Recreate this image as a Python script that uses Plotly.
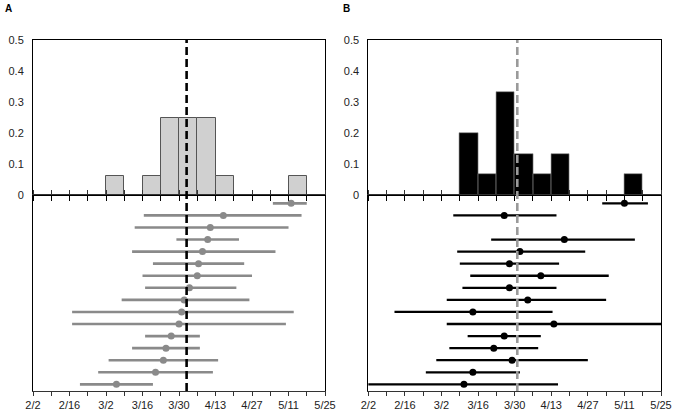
import plotly.graph_objects as go

# ---------------- data ----------------
# Panel A histogram (weekly bins, start date of bin -> proportion)
a_bin_start = ["2023-03-02", "2023-03-16", "2023-03-23", "2023-03-30", "2023-04-06", "2023-04-13", "2023-05-11"]
a_bin_value = [0.0625, 0.0625, 0.25, 0.25, 0.25, 0.0625, 0.0625]

# Panel B histogram
b_bin_start = ["2023-03-09", "2023-03-16", "2023-03-23", "2023-03-30", "2023-04-06", "2023-04-13", "2023-05-11"]
b_bin_value = [0.2, 0.0667, 0.3333, 0.1333, 0.0667, 0.1333, 0.0667]

# Panel A intervals (row 1 = top)
a_rows = list(range(1, 17))
a_lo = ["2023-05-05", "2023-03-16 12:00", "2023-03-13", "2023-03-29", "2023-03-12", "2023-03-20",
        "2023-03-16", "2023-03-17", "2023-03-08", "2023-02-17", "2023-02-17", "2023-03-17",
        "2023-03-12", "2023-03-03", "2023-02-27", "2023-02-20"]
a_hi = ["2023-05-18", "2023-05-16", "2023-05-11", "2023-04-22", "2023-05-06", "2023-04-24",
        "2023-04-27", "2023-04-21", "2023-04-26", "2023-05-13", "2023-05-10", "2023-04-07",
        "2023-04-07", "2023-04-14", "2023-04-12", "2023-03-20"]
a_mid = ["2023-05-12", "2023-04-16", "2023-04-11", "2023-04-10", "2023-04-08", "2023-04-06 12:00",
         "2023-04-06", "2023-04-03", "2023-04-01", "2023-03-31", "2023-03-30", "2023-03-27",
         "2023-03-25", "2023-03-24", "2023-03-21", "2023-03-06"]
a_mean = "2023-04-01 22:00"

# Panel B intervals (row 3 is empty)
b_rows = [1, 2, 4, 5, 6, 7, 8, 9, 10, 11, 12, 13, 14, 15, 16]
b_lo = ["2023-05-02 12:00", "2023-03-06 12:00", "2023-03-21", "2023-03-08", "2023-03-09", "2023-03-13",
        "2023-03-10", "2023-03-04", "2023-02-12", "2023-03-04", "2023-03-12", "2023-03-05",
        "2023-02-28", "2023-02-24", "2023-01-28"]
b_hi = ["2023-05-20", "2023-04-15", "2023-05-15", "2023-04-26", "2023-04-16", "2023-05-05",
        "2023-04-15", "2023-05-04", "2023-04-13 12:00", "2023-06-05", "2023-04-09", "2023-04-08",
        "2023-04-27", "2023-04-01", "2023-04-15 14:00"]
b_mid = ["2023-05-11", "2023-03-26", "2023-04-18", "2023-04-01", "2023-03-28", "2023-04-09",
         "2023-03-28", "2023-04-04", "2023-03-14", "2023-04-14", "2023-03-26", "2023-03-22",
         "2023-03-29", "2023-03-14", "2023-03-10 14:00"]
b_mean = "2023-03-31"

x_range = ["2023-02-02", "2023-05-25 00:00:01"]
y_ticks = [0, 0.1, 0.2, 0.3, 0.4, 0.5]

DAY = 86400000
FONT = "Liberation Sans, Arial, sans-serif"

# ---------------- figure ----------------
fig = go.Figure()


def segments(lo, hi, rows):
    xs, ys = [], []
    for l, h, r in zip(lo, hi, rows):
        xs += [l, h, None]
        ys += [r, r, None]
    return xs, ys


# Histograms
fig.add_trace(go.Bar(x=a_bin_start, y=a_bin_value, width=[7 * DAY] * len(a_bin_start), offset=0,
                     marker=dict(color="#d0d0d0", line=dict(color="#555555", width=1)),
                     xaxis="x", yaxis="y", showlegend=False))
fig.add_trace(go.Bar(x=b_bin_start, y=b_bin_value, width=[7 * DAY] * len(b_bin_start), offset=0,
                     marker=dict(color="#000000", line=dict(color="#888888", width=0.6)),
                     xaxis="x3", yaxis="y3", showlegend=False))

# Intervals A
xs, ys = segments(a_lo, a_hi, a_rows)
fig.add_trace(go.Scatter(x=xs, y=ys, mode="lines", line=dict(color="#8a8a8a", width=2.6),
                         xaxis="x2", yaxis="y2", showlegend=False, connectgaps=False))
fig.add_trace(go.Scatter(x=a_mid, y=a_rows, mode="markers", marker=dict(color="#8a8a8a", size=7),
                         xaxis="x2", yaxis="y2", showlegend=False, cliponaxis=False))

# Intervals B
xs, ys = segments(b_lo, b_hi, b_rows)
fig.add_trace(go.Scatter(x=xs, y=ys, mode="lines", line=dict(color="#000000", width=2.3),
                         xaxis="x4", yaxis="y4", showlegend=False, connectgaps=False))
fig.add_trace(go.Scatter(x=b_mid, y=b_rows, mode="markers", marker=dict(color="#000000", size=7),
                         xaxis="x4", yaxis="y4", showlegend=False, cliponaxis=False))

# Mean lines spanning both panels
fig.add_shape(type="line", xref="x", yref="paper", x0=a_mean, x1=a_mean, y0=0, y1=1,
              line=dict(color="#000000", width=2.6, dash="8px,4px"), layer="above")
fig.add_shape(type="line", xref="x3", yref="paper", x0=b_mean, x1=b_mean, y0=0, y1=1,
              line=dict(color="#9a9a9a", width=2.6, dash="8px,4px"), layer="above")

top_dom = [0.5584, 1.0]
bot_dom = [0.0, 0.5584]
a_dom = [0.0, 0.465]
b_dom = [0.534, 1.0]

tickfont = dict(family=FONT, size=11, color="#222222")


def top_x(dom, anchor):
    return dict(domain=dom, anchor=anchor, type="date", range=x_range, showticklabels=False,
                tick0="2023-02-02", dtick=7 * DAY, ticks="outside", ticklen=5, tickcolor="#000",
                showline=True, linecolor="#000", linewidth=1, mirror=True, showgrid=False,
                zeroline=False, automargin=False)


def bot_x(dom, anchor, match):
    return dict(domain=dom, anchor=anchor, type="date", range=x_range, matches=match,
                tick0="2023-02-02", dtick=14 * DAY, tickformat="%-m/%-d", ticks="outside",
                ticklen=4, tickcolor="#333", tickfont=tickfont, ticklabeloverflow="allow",
                minor=dict(tick0="2023-02-02", dtick=7 * DAY, ticks="outside", ticklen=4,
                           tickcolor="#333", showgrid=False),
                showline=True, linecolor="#333", linewidth=1, mirror="ticks",
                showgrid=False, zeroline=False, automargin=False)


def top_y(anchor):
    return dict(domain=top_dom, anchor=anchor, range=[0, 0.5], tickvals=y_ticks, ticks="",
                tickfont=tickfont, ticklabelstandoff=6, showline=True, linecolor="#000",
                linewidth=1, mirror=True, showgrid=False, zeroline=False, automargin=False,
                ticklabeloverflow="allow")


def bot_y(anchor):
    return dict(domain=bot_dom, anchor=anchor, range=[16.55, 0.31], showticklabels=False,
                ticks="", showline=True, linecolor="#000", linewidth=1, mirror=True,
                showgrid=False, zeroline=False, automargin=False)


ML, MR, MT, MB = 33, 14, 40, 22
W, H = 675, 413
pw = W - ML - MR
ph = H - MT - MB


def px_to_paper(x, y):
    return (x - ML) / pw, 1 + (MT - y) / ph


ax, ay = px_to_paper(8, 8.5)
bx, by = px_to_paper(346.5, 8.5)

fig.update_layout(
    width=W, height=H,
    margin=dict(l=ML, r=MR, t=MT, b=MB, autoexpand=False),
    paper_bgcolor="white", plot_bgcolor="white",
    font=dict(family=FONT, size=11, color="#222"),
    bargap=0,
    xaxis=top_x(a_dom, "y"), yaxis=top_y("x"),
    xaxis2=bot_x(a_dom, "y2", "x"), yaxis2=bot_y("x2"),
    xaxis3=top_x(b_dom, "y3"), yaxis3=top_y("x3"),
    xaxis4=bot_x(b_dom, "y4", "x3"), yaxis4=bot_y("x4"),
    annotations=[
        dict(text="<b>A</b>", x=ax, y=ay, xref="paper", yref="paper", showarrow=False,
             xanchor="center", yanchor="middle", font=dict(family=FONT, size=10, color="#000")),
        dict(text="<b>B</b>", x=bx, y=by, xref="paper", yref="paper", showarrow=False,
             xanchor="center", yanchor="middle", font=dict(family=FONT, size=10, color="#000")),
    ],
)

fig.write_html("out.html", config={"displayModeBar": False})

# remove the browser's default page margin so the figure sits at the top-left corner
with open("out.html", "r", encoding="utf-8") as f:
    html = f.read()
html = html.replace("<head>", "<head><style>html,body{margin:0;padding:0;overflow:hidden;}</style>", 1)
with open("out.html", "w", encoding="utf-8") as f:
    f.write(html)
